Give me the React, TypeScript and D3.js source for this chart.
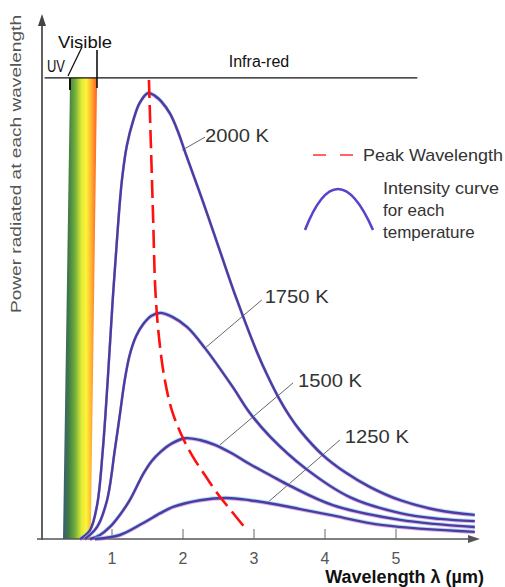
import {useMemo} from "react";
import * as d3 from "d3";

// curve points: [wavelength µm, power (arbitrary units, 2000 K peak = 100)]
const curve2000: [number, number][] = [
  [0.55, 0], [0.69, 2.0], [0.79, 7.6], [0.87, 19.9], [0.94, 35.7], [1.01, 53.6],
  [1.08, 69.3], [1.14, 80.5], [1.21, 88.3], [1.3, 93.9], [1.39, 97.8], [1.51, 100],
  [1.61, 99.3], [1.7, 98.0], [1.82, 95.3], [1.93, 91.3], [2.04, 86.3], [2.28, 75.7],
  [2.52, 64.6], [2.76, 53.6], [3.04, 42.0], [3.2, 36.3], [3.36, 31.3], [3.5, 27.6],
  [3.65, 24.3], [3.97, 18.8], [4.28, 15.0], [4.63, 11.7], [5.06, 8.7], [5.58, 6.5],
  [6.11, 5.4],
];
const curve1750: [number, number][] = [
  [0.62, 0], [0.79, 2.7], [0.93, 8.7], [1.04, 20.0], [1.11, 27.8], [1.18, 35.7],
  [1.25, 41.3], [1.34, 45.5], [1.44, 48.2], [1.55, 50.0], [1.68, 50.7], [1.85, 49.8],
  [2.06, 47.5], [2.31, 42.8], [2.7, 34.1], [2.94, 28.3], [3.23, 22.9], [3.72, 15.9],
  [4.35, 9.4], [5.06, 5.8], [5.62, 4.5], [6.11, 4.0],
];
const curve1500: [number, number][] = [
  [0.69, 0], [0.83, 0.9], [0.97, 2.7], [1.11, 5.4], [1.25, 8.7], [1.44, 14.6],
  [1.56, 17.5], [1.68, 19.5], [1.85, 21.5], [2.03, 22.6], [2.24, 22.2], [2.45, 21.1],
  [2.7, 19.1], [2.94, 16.8], [3.23, 14.3], [3.51, 11.9], [4.11, 7.6], [5.06, 4.3],
  [6.11, 2.7],
];
const curve1250: [number, number][] = [
  [0.76, 0], [1.11, 0.9], [1.44, 3.6], [1.68, 5.8], [1.86, 7.2], [2.24, 8.7],
  [2.62, 9.2], [2.94, 8.7], [3.3, 7.8], [3.65, 6.7], [4.07, 5.4], [4.82, 3.1],
  [6.11, 1.6],
];
const peakLine: [number, number][] = [
  [1.52, 102.9], [1.55, 87.2], [1.58, 71.5], [1.61, 56.0], [1.66, 45.5], [1.74, 36.0],
  [1.85, 28.5], [2.0, 22.6], [2.14, 18.4], [2.31, 14.3], [2.48, 10.3], [2.69, 6.1],
  [2.9, 2.0],
];

const curves = [curve2000, curve1750, curve1500, curve1250];
const tempLabels = ["2000 K", "1750 K", "1500 K", "1250 K"];
// leader: [from λ, from P, to λ, to P]; label anchor: [λ, P]
const leaders: [number, number, number, number][] = [
  [1.99, 87.2, 2.31, 90.1],
  [2.31, 42.8, 3.11, 53.6],
  [2.52, 21.1, 3.55, 35.0],
  [3.2, 8.3, 4.21, 22.2],
];
const labelAnchors: [number, number][] = [
  [2.31, 89.0],
  [3.15, 52.9],
  [3.62, 34.1],
  [4.28, 21.5],
];
const wavelengthTicks = [1, 2, 3, 4, 5];

// visible band edges (λ at top and bottom), infra-red line
const bandTop = [0.41, 0.79];
const bandBottom = [0.31, 0.7];
const bandTopPower = 103.4;
const irLine = [0.05, 5.3];

const W = 505;
const H = 587;
const font = "'Liberation Sans', Arial, sans-serif";
const curveColor = "#4a3ca2";

export default function App() {
  const x = useMemo(() => d3.scaleLinear().domain([0, 6]).range([41, 467]), []);
  const y = useMemo(() => d3.scaleLinear().domain([0, 100]).range([539, 93]), []);

  const line = d3
    .line<[number, number]>()
    .x((d) => x(d[0]))
    .y((d) => y(d[1]))
    .curve(d3.curveCatmullRom.alpha(0.5));

  const band = `M${x(bandTop[0])},${y(bandTopPower)} L${x(bandTop[1])},${y(bandTopPower)} L${x(
    bandBottom[1],
  )},${y(0)} L${x(bandBottom[0])},${y(0)} Z`;

  return (
    <svg
      width={W}
      height={H}
      style={{position: "absolute", left: 0, top: 0, background: "#fff"}}
      fontFamily={font}
    >
      <defs>
        <linearGradient id="rainbow" x1="0" x2="1" y1="0" y2="0">
          <stop offset="0%" stopColor="#3b587f" />
          <stop offset="16%" stopColor="#3e7a44" />
          <stop offset="36%" stopColor="#74b03a" />
          <stop offset="54%" stopColor="#e0ea36" />
          <stop offset="68%" stopColor="#fff43a" />
          <stop offset="84%" stopColor="#ffae2e" />
          <stop offset="100%" stopColor="#ff5a24" />
        </linearGradient>
      </defs>

      {/* visible band */}
      <path d={band} fill="url(#rainbow)" />

      {/* y-axis label */}
      <text
        transform="translate(21,164) rotate(-90)"
        textAnchor="middle"
        fontSize={15}
        fill="#555"
        textLength={298}
        lengthAdjust="spacingAndGlyphs"
      >
        Power radiated at each wavelength
      </text>

      {/* axes */}
      <line x1={42} x2={42} y1={y(0) + 1} y2={24} stroke="#3a3a3a" strokeWidth={1.6} />
      <path d="M42,14 L38,26 L46,26 Z" fill="#444" />
      <line x1={37} x2={470} y1={y(0)} y2={y(0)} stroke="#555" strokeWidth={1.6} />
      <path d={`M480,${y(0)} L468,${y(0) - 4} L468,${y(0) + 4} Z`} fill="#555" />
      {wavelengthTicks.map((t) => (
        <g key={t}>
          <line x1={x(t)} x2={x(t)} y1={y(0) - 10} y2={y(0)} stroke="#666" strokeWidth={1} />
          <text x={x(t)} y={564} textAnchor="middle" fontSize={16} fill="#555">
            {t}
          </text>
        </g>
      ))}
      <text x={484} y={583} textAnchor="end" fontSize={18} fontWeight="bold" fill="#111">
        Wavelength  λ (µm)
      </text>

      {/* infra-red line and visible markers */}
      <line x1={x(irLine[0])} x2={x(irLine[1])} y1={y(bandTopPower)} y2={y(bandTopPower)} stroke="#111" strokeWidth={1.4} />
      <text x={259} y={67} textAnchor="middle" fontSize={16} fill="#111">
        Infra-red
      </text>
      <text x={58} y={48} fontSize={17} fill="#111" textLength={54} lengthAdjust="spacingAndGlyphs">
        Visible
      </text>
      <text x={47} y={72} fontSize={16} fill="#111" textLength={18} lengthAdjust="spacingAndGlyphs">
        UV
      </text>
      <line x1={68} y1={76} x2={82} y2={47} stroke="#111" strokeWidth={1.3} />
      <line x1={70} y1={78} x2={70} y2={90} stroke="#111" strokeWidth={2} />
      <line x1={97} y1={50} x2={97} y2={88} stroke="#111" strokeWidth={1.6} />

      {/* leaders */}
      {leaders.map((l, i) => (
        <line key={i} x1={x(l[0])} y1={y(l[1])} x2={x(l[2])} y2={y(l[3])} stroke="#666" strokeWidth={1} />
      ))}

      {/* intensity curves */}
      {curves.map((c, i) => (
        <g key={i}>
          <path d={line(c) ?? ""} fill="none" stroke="#8fd6e6" strokeWidth={2.4} transform="translate(0,-1)" opacity={0.7} />
          <path d={line(c) ?? ""} fill="none" stroke="#c77ad0" strokeWidth={2.4} transform="translate(0,1)" opacity={0.6} />
          <path d={line(c) ?? ""} fill="none" stroke={curveColor} strokeWidth={2.4} />
        </g>
      ))}

      {/* peak wavelength */}
      <path d={line(peakLine) ?? ""} fill="none" stroke="#ff1010" strokeWidth={2.6} strokeDasharray="18 7" />

      {/* temperature labels */}
      {tempLabels.map((t, i) => (
        <text
          key={t}
          x={x(labelAnchors[i][0])}
          y={y(labelAnchors[i][1])}
          fontSize={19}
          fill="#333"
          textLength={64}
          lengthAdjust="spacingAndGlyphs"
        >
          {t}
        </text>
      ))}

      {/* legend */}
      <line x1={313} x2={353} y1={155} y2={155} stroke="#ff3030" strokeWidth={1.6} strokeDasharray="13 14" />
      <text x={363} y={161} fontSize={17} fill="#333" textLength={140} lengthAdjust="spacingAndGlyphs">
        Peak Wavelength
      </text>
      <path d="M305,230 Q337,148 373,230" fill="none" stroke="#5544cc" strokeWidth={2.6} />
      <text x={383} y={194} fontSize={17} fill="#333" textLength={116} lengthAdjust="spacingAndGlyphs">
        Intensity curve
      </text>
      <text x={383} y={216} fontSize={17} fill="#333">
        for each
      </text>
      <text x={383} y={238} fontSize={17} fill="#333">
        temperature
      </text>
    </svg>
  );
}
